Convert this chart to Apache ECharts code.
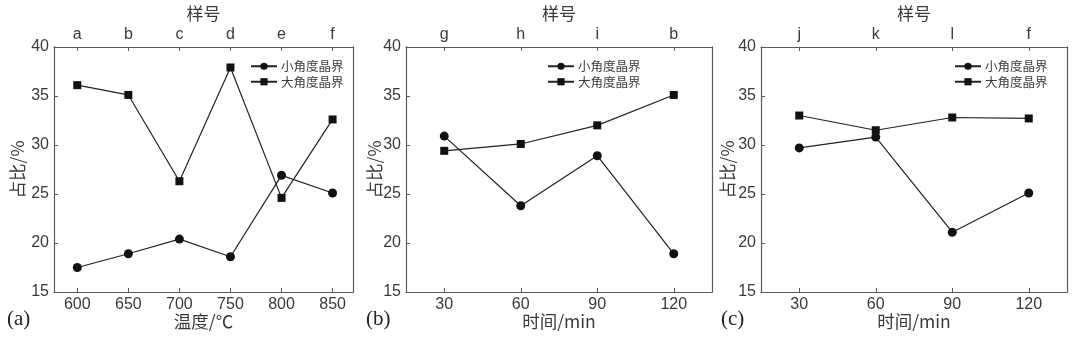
<!DOCTYPE html>
<html>
<head>
<meta charset="utf-8">
<script src="https://cdn.jsdelivr.net/npm/echarts@6/dist/echarts.min.js"></script>
<style>
  html, body { margin: 0; padding: 0; background: #fff; }
  #chart { width: 1080px; height: 345px; }
</style>
</head>
<body>
<div id="chart"></div>
<script>
// (a) temperature series
const temps = [600, 650, 700, 750, 800, 850];
const samplesA = ['a', 'b', 'c', 'd', 'e', 'f'];
const lowA = [17.5, 18.9, 20.4, 18.6, 26.9, 25.1];
const highA = [36.1, 35.1, 26.3, 37.9, 24.6, 32.6];

// (b) and (c) holding-time series
const times = [30, 60, 90, 120];
const samplesB = ['g', 'h', 'i', 'b'];
const lowB = [30.9, 23.8, 28.9, 18.9];
const highB = [29.4, 30.1, 32.0, 35.1];
const samplesC = ['j', 'k', 'l', 'f'];
const lowC = [29.7, 30.8, 21.1, 25.1];
const highC = [33.0, 31.5, 32.8, 32.7];

const LOW = '小角度晶界';
const HIGH = '大角度晶界';

const TXT = '#3a3a3a';
const AX = '#5a5a5a';
const FONT = 'Liberation Sans, Arial, sans-serif';
const CJK = '"Noto Sans CJK SC", "Liberation Sans", sans-serif';

const panels = [
  { left: 54, width: 299, min: 577.2, max: 870, xs: temps, samples: samplesA, low: lowA, high: highA, xName: '温度/℃', yGap: 28, legendLeft: 250, tag: '(a)', tagX: 7 },
  { left: 406, width: 306, min: 15, max: 135, xs: times, samples: samplesB, low: lowB, high: highB, xName: '时间/min', yGap: 22.5, legendLeft: 547, tag: '(b)', tagX: 366 },
  { left: 761, width: 306, min: 15, max: 135, xs: times, samples: samplesC, low: lowC, high: highC, xName: '时间/min', yGap: 25, legendLeft: 954, tag: '(c)', tagX: 721 }
];

const grid = [], xAxis = [], yAxis = [], series = [], legend = [], graphic = [];

panels.forEach((p, i) => {
  grid.push({ left: p.left, top: 44, width: p.width, height: 248 });

  const axisCommon = {
    type: 'value', gridIndex: i, min: p.min, max: p.max,
    splitLine: { show: false },
    axisLine: { show: true, lineStyle: { color: AX, width: 1.2 } },
    axisTick: { show: true, inside: true, length: 4, lineStyle: { color: AX }, customValues: p.xs },
    axisLabel: { color: TXT, fontSize: 16, fontFamily: FONT, customValues: p.xs, margin: 5 }
  };

  // bottom axis: temperature / time
  xAxis.push(Object.assign({}, axisCommon, {
    position: 'bottom',
    name: p.xName, nameLocation: 'middle', nameGap: 21, nameMoveOverlap: false,
    nameTextStyle: { color: TXT, fontSize: 17.5, fontFamily: CJK }
  }));
  // top axis: sample labels
  xAxis.push(Object.assign({}, axisCommon, {
    position: 'top',
    axisLabel: Object.assign({}, axisCommon.axisLabel, {
      margin: 4,
      formatter: v => p.samples[p.xs.indexOf(v)] || ''
    }),
    name: '样号', nameLocation: 'middle', nameGap: 21,
    nameTextStyle: { color: TXT, fontSize: 17, fontFamily: CJK }
  }));

  yAxis.push({
    type: 'value', gridIndex: i, min: 15, max: 40, interval: 5,
    splitLine: { show: false },
    axisLine: { show: true, lineStyle: { color: AX, width: 1.2 } },
    axisTick: { show: true, inside: true, length: 4, lineStyle: { color: AX } },
    axisLabel: { color: TXT, fontSize: 16, fontFamily: FONT, margin: 5 },
    name: '占比/%', nameLocation: 'middle', nameGap: p.yGap, nameMoveOverlap: false,
    nameTextStyle: { color: TXT, fontSize: 17.5, fontFamily: CJK }
  });
  // right edge of the frame
  yAxis.push({
    type: 'value', gridIndex: i, min: 15, max: 40, position: 'right',
    splitLine: { show: false }, axisTick: { show: false }, axisLabel: { show: false },
    axisLine: { show: true, lineStyle: { color: AX, width: 1.2 } }
  });

  const lineStyle = { color: '#222', width: 1.2 };
  series.push({
    name: LOW, type: 'line', xAxisIndex: 2 * i, yAxisIndex: 2 * i,
    data: p.xs.map((x, k) => [x, p.low[k]]),
    symbol: 'circle', symbolSize: 9,
    lineStyle, itemStyle: { color: '#111' }, z: 3
  });
  series.push({
    name: HIGH, type: 'line', xAxisIndex: 2 * i, yAxisIndex: 2 * i,
    data: p.xs.map((x, k) => [x, p.high[k]]),
    symbol: 'rect', symbolSize: 8,
    lineStyle, itemStyle: { color: '#111' }, z: 3
  });

  legend.push({
    data: [LOW, HIGH], orient: 'vertical', left: p.legendLeft, top: 60,
    padding: 0, itemWidth: 26, itemHeight: 9, itemGap: 3,
    selectedMode: false,
    textStyle: { color: TXT, fontSize: 12.5, fontFamily: CJK, padding: [0, 0, 0, -1] }
  });

  graphic.push({
    type: 'text', left: p.tagX, top: 309,
    style: { text: p.tag, fill: '#222', font: '21px "Liberation Serif", "Times New Roman", serif' }
  });
});

const chart = echarts.init(document.getElementById('chart'), null, { renderer: 'canvas' });
chart.setOption({
  backgroundColor: '#fff',
  animation: false,
  textStyle: { fontFamily: FONT },
  grid, xAxis, yAxis, series, legend, graphic
});
</script>
</body>
</html>
